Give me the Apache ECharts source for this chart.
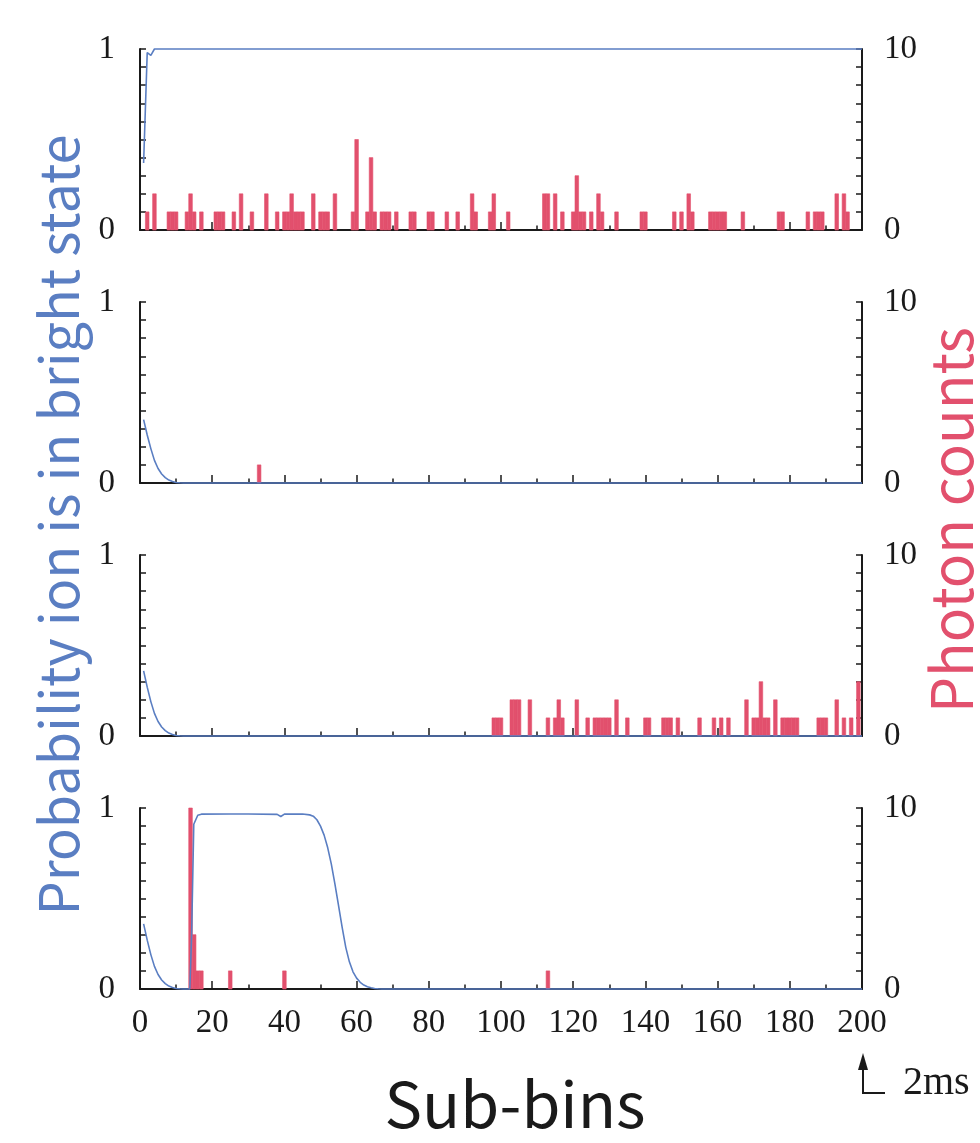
<!DOCTYPE html>
<html>
<head>
<meta charset="utf-8">
<style>
  html, body { margin: 0; padding: 0; background: #fff; }
  #chart { width: 980px; height: 1143px; }
</style>
<script src="https://cdn.jsdelivr.net/npm/echarts@6/dist/echarts.min.js"></script>
</head>
<body>
<div id="chart"></div>
<script>
// photon counts per sub-bin: [bin, count]
var counts1 = [
  [2,1],[4,2],[8,1],[9,1],[10,1],[13,1],[14,2],[15,1],[17,1],[21,1],[22,1],[23,1],
  [26,1],[28,2],[31,1],[35,2],[38,1],[40,1],[41,1],[42,2],[43,1],[44,1],[45,1],
  [48,2],[50,1],[51,1],[52,1],[54,2],[59,1],[60,5],[63,1],[64,4],[65,1],
  [67,1],[68,1],[69,1],[71,1],[75,1],[76,1],[80,1],[81,1],[85,1],[88,1],
  [92,2],[93,1],[97,1],[98,2],[102,1],[112,2],[113,2],[115,2],[117,1],
  [120,1],[121,3],[122,1],[123,1],[125,1],[127,2],[128,1],[132,1],[139,1],[140,1],
  [148,1],[150,1],[152,2],[153,1],[158,1],[159,1],[160,1],[161,1],[162,1],
  [167,1],[177,1],[178,1],[185,1],[187,1],[188,1],[189,1],[193,2],[195,2],[196,1]
];
var counts2 = [[33,1]];
var counts3 = [
  [98,1],[99,1],[100,1],[103,2],[104,2],[105,2],[108,2],[113,1],[115,1],[116,2],[117,1],
  [121,2],[124,1],[126,1],[127,1],[128,1],[129,1],[130,1],[132,2],[135,1],[140,1],[141,1],
  [145,1],[146,1],[147,1],[149,1],[155,1],[159,1],[161,1],[163,1],[168,2],
  [170,1],[171,1],[172,3],[173,1],[174,1],[176,2],[178,1],[179,1],[180,1],[181,1],[182,1],
  [188,1],[189,1],[190,1],[193,2],[195,1],[197,1],[199,3]
];
var counts4 = [[14,10],[15,3],[16,1],[17,1],[25,1],[40,1],[113,1]];

// probability that the ion is bright: [sub-bin, p]
var prob1 = [[1,0.37],[2,0.98],[3,0.965],[4,1],[200,1]];
var prob2 = [[1,0.35],[2,0.265],[3,0.19],[4,0.125],[5,0.08],[6,0.05],[7,0.03],[8,0.016],
  [9,0.008],[10,0.003],[11,0.001],[12,0],[200,0]];
var prob3 = [[1,0.36],[2,0.27],[3,0.19],[4,0.125],[5,0.08],[6,0.05],[7,0.03],[8,0.016],
  [9,0.008],[10,0.003],[11,0.001],[12,0],[200,0]];
var prob4 = [[1,0.36],[2,0.27],[3,0.19],[4,0.125],[5,0.08],[6,0.05],[7,0.03],[8,0.016],
  [9,0.008],[10,0.003],[11,0.001],[12,0],[13.8,0],[14.3,0.3],[14.9,0.91],[16,0.96],[17,0.966],
  [25,0.967],[30,0.967],[38,0.965],[39,0.953],[40,0.966],[45,0.967],[47,0.962],[48,0.955],
  [49,0.935],[50,0.9],[51,0.85],[52,0.78],[53,0.69],[54,0.58],[55,0.46],[56,0.34],[57,0.23],
  [58,0.15],[59,0.095],[60,0.06],[61,0.037],[62,0.022],[63,0.013],[64,0.007],[65,0.003],
  [66,0.001],[67,0],[200,0]];

var xTicks = [0, 20, 40, 60, 80, 100, 120, 140, 160, 180, 200];

var counts = [counts1, counts2, counts3, counts4];
var probs = [prob1, prob2, prob3, prob4];
var tops = [49, 302, 555, 808];

var BLUE = '#5a7ec2';
var RED = '#e2506d';
var INK = '#1a1a1a';
var SERIF = '"Liberation Serif", "DejaVu Serif", serif';
var SANS = '"Noto Sans CJK JP", "Noto Sans", sans-serif';

var chart = echarts.init(document.getElementById('chart'));

function renderBar(params, api) {
  var x = api.value(0), h = api.value(1);
  var p0 = api.coord([x - 0.5, 0]);
  var p1 = api.coord([x + 0.5, h]);
  return {
    type: 'rect',
    shape: { x: p0[0], y: p1[1], width: p1[0] - p0[0], height: p0[1] - p1[1] },
    style: { fill: RED, stroke: RED, lineWidth: 0.6 }
  };
}

var grid = [], xAxis = [], yAxis = [], series = [];
var axisLineStyle = { color: INK, width: 2 };
var tickLineStyle = { color: INK, width: 1.5 };

for (var i = 0; i < 4; i++) {
  grid.push({ left: 140, right: 118, top: tops[i], height: 181 });
  xAxis.push({
    gridIndex: i, type: 'value', min: 0, max: 200, interval: 20,
    axisLine: { onZero: false, lineStyle: axisLineStyle },
    axisTick: { inside: true, length: 8, lineStyle: tickLineStyle },
    minorTick: { show: true, splitNumber: 2, length: 4.5, lineStyle: tickLineStyle },
    splitLine: { show: false },
    axisLabel: {
      show: i === 3, margin: 18, fontFamily: SERIF, fontSize: 33, color: INK,
      formatter: function (v) { return xTicks.indexOf(v) >= 0 ? String(v) : ''; }
    }
  });
  yAxis.push({
    gridIndex: i, type: 'value', position: 'left', min: 0, max: 1, interval: 0.1,
    axisLine: { show: true, lineStyle: axisLineStyle },
    axisTick: { inside: true, length: 6, lineStyle: tickLineStyle },
    splitLine: { show: false },
    axisLabel: {
      margin: 25, fontFamily: SERIF, fontSize: 33, color: INK,
      formatter: function (v) { return (v === 0 || v === 1) ? String(v) : ''; }
    }
  });
  yAxis.push({
    gridIndex: i, type: 'value', position: 'right', min: 0, max: 10, interval: 1,
    axisLine: { show: true, lineStyle: axisLineStyle },
    axisTick: { inside: true, length: 6, lineStyle: tickLineStyle },
    splitLine: { show: false },
    axisLabel: {
      margin: 22, fontFamily: SERIF, fontSize: 33, color: INK,
      formatter: function (v) { return (v === 0 || v === 10) ? String(v) : ''; }
    }
  });
  series.push({
    type: 'custom', xAxisIndex: i, yAxisIndex: 2 * i + 1,
    renderItem: renderBar, data: counts[i], z: 2
  });
  series.push({
    type: 'line', xAxisIndex: i, yAxisIndex: 2 * i, data: probs[i],
    showSymbol: false, clip: false, z: 3,
    lineStyle: { color: BLUE, width: 1.6 }
  });
}

chart.setOption({
  animation: false,
  backgroundColor: '#fff',
  grid: grid,
  xAxis: xAxis,
  yAxis: yAxis,
  series: series,
  graphic: [
    {
      type: 'text', x: 58, y: 525, rotation: Math.PI / 2,
      style: { text: 'Probability ion is in bright state', fill: BLUE,
        font: '54px ' + SANS, align: 'center', verticalAlign: 'middle' }
    },
    {
      type: 'text', x: 951, y: 520, rotation: Math.PI / 2,
      style: { text: 'Photon counts', fill: RED,
        font: '57px ' + SANS, align: 'center', verticalAlign: 'middle' }
    },
    {
      type: 'text', x: 515, y: 1104,
      style: { text: 'Sub-bins', fill: INK,
        font: '63px ' + SANS, align: 'center', verticalAlign: 'middle' }
    },
    {
      type: 'line', shape: { x1: 863, y1: 1093, x2: 863, y2: 1066 },
      style: { stroke: INK, lineWidth: 2 }
    },
    {
      type: 'line', shape: { x1: 862, y1: 1093, x2: 885, y2: 1093 },
      style: { stroke: INK, lineWidth: 2 }
    },
    {
      type: 'polygon', shape: { points: [[863, 1053], [858, 1070], [868, 1070]] },
      style: { fill: INK }
    },
    {
      type: 'text', x: 903, y: 1083,
      style: { text: '2ms', fill: INK, font: '40px ' + SERIF,
        align: 'left', verticalAlign: 'middle' }
    }
  ]
});
</script>
</body>
</html>
